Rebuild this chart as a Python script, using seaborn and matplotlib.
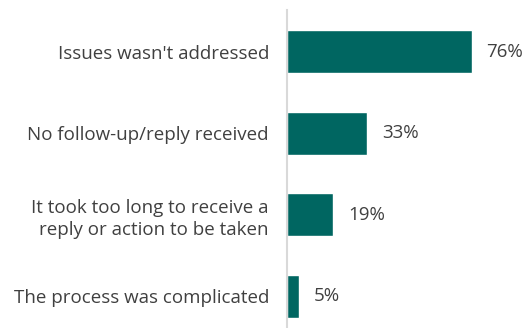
import matplotlib
matplotlib.use("Agg")
import matplotlib.pyplot as plt
import seaborn as sns
import pandas as pd

categories = [
    "Issues wasn't addressed",
    "No follow-up/reply received",
    "It took too long to receive a\nreply or action to be taken",
    "The process was complicated",
]
values = [76, 33, 19, 5]
value_labels = ["76%", "33%", "19%", "5%"]

df = pd.DataFrame({"reason": categories, "pct": values})

sns.set_theme(style="white")
plt.rcParams["font.family"] = ["Open Sans", "DejaVu Sans"]

fig = plt.figure(figsize=(5.28, 3.28), dpi=100)
ax = fig.add_axes([287 / 528, 0.0, 1 - 287 / 528, 1 - 10 / 328])

sns.barplot(data=df, x="pct", y="reason", orient="h", color="#006661",
            saturation=1, width=0.53, ax=ax)

ax.set_xlim(0, 99)
ax.set_ylim(3.39, -0.51)
ax.set_xlabel("")
ax.set_ylabel("")
ax.set_xticks([])
ax.tick_params(axis="y", length=0, pad=13, labelsize=13.5, labelcolor="#404040")
for lbl in ax.get_yticklabels():
    lbl.set_horizontalalignment("right")
    lbl.set_multialignment("right")
    lbl.set_linespacing(1.3)

for spine in ["top", "right", "bottom"]:
    ax.spines[spine].set_visible(False)
ax.spines["left"].set_color("#d9d9d9")
ax.spines["left"].set_linewidth(1.5)

for i, (v, t) in enumerate(zip(values, value_labels)):
    ax.text(v + 6, i, t, va="center", ha="left", fontsize=13.5, color="#404040")

fig.savefig("out.png", dpi=100)
